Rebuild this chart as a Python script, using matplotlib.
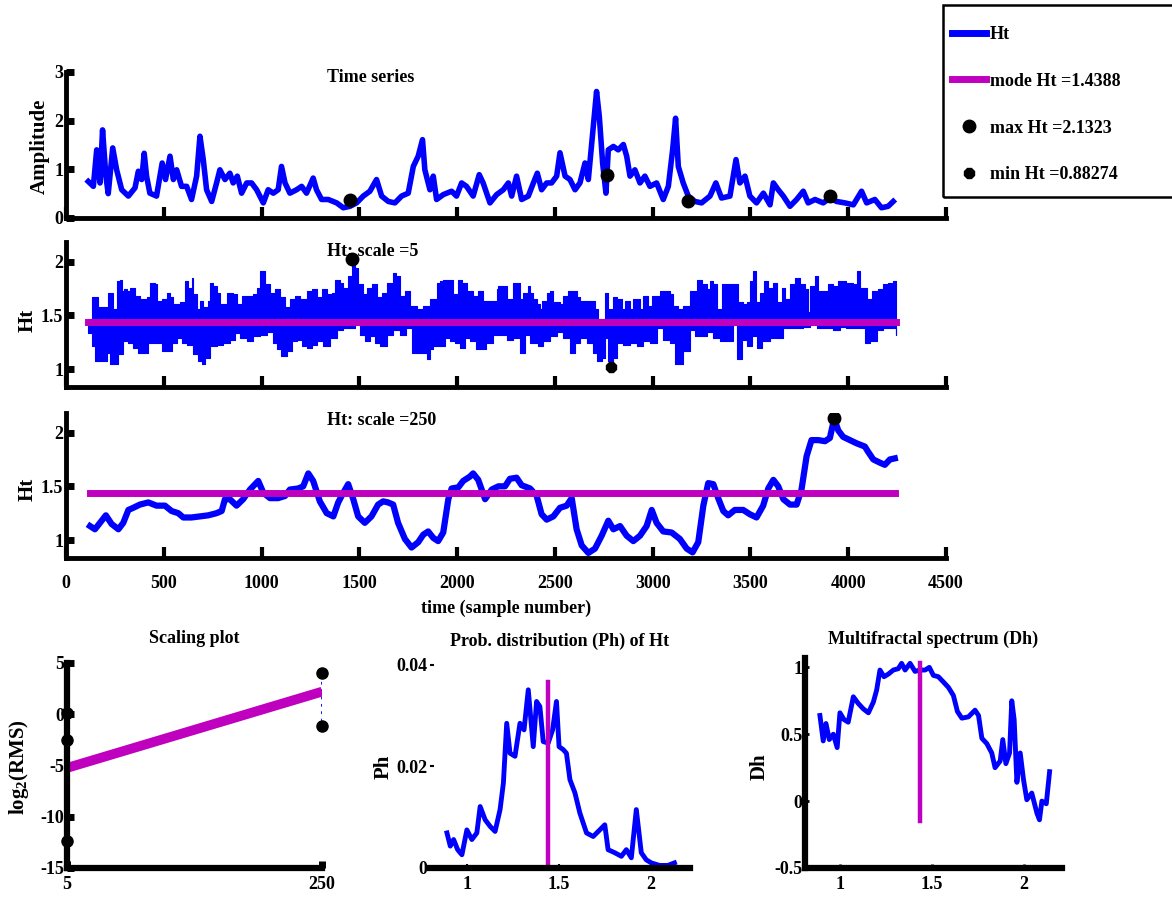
# -*- coding: utf-8 -*-
import numpy as np
import matplotlib
matplotlib.use('Agg')
import matplotlib.pyplot as plt
from matplotlib.lines import Line2D
from matplotlib.patches import Rectangle

plt.rcParams['font.family'] = 'Liberation Serif'
plt.rcParams['font.weight'] = 'bold'
plt.rcParams['axes.labelweight'] = 'bold'
plt.rcParams['axes.unicode_minus'] = False
plt.rcParams['mathtext.fontset'] = 'custom'
plt.rcParams['mathtext.rm'] = 'Liberation Serif:bold'
plt.rcParams['mathtext.it'] = 'Liberation Serif:bold'
plt.rcParams['mathtext.bf'] = 'Liberation Serif:bold'

BLUE = '#0000ff'
MAG = '#bf00bf'
FS = 13

# ---- time series (amplitude) ----
ts_t = [114, 140, 157, 174, 187, 204, 216, 239, 259, 285,
        319, 353, 370, 387, 400, 412, 429, 463, 492, 509,
        532, 549, 566, 591, 617, 642, 668, 685, 702, 719,
        745, 770, 787, 813, 838, 855, 876, 898, 924, 949,
        975, 1009, 1034, 1060, 1085, 1102, 1120, 1145, 1179, 1205,
        1230, 1264, 1281, 1307, 1341, 1384, 1418, 1452, 1486, 1520,
        1554, 1588, 1614, 1648, 1682, 1716, 1750, 1776, 1801, 1823,
        1835, 1861, 1878, 1895, 1929, 1972, 1997, 2023, 2048, 2082,
        2113, 2133, 2168, 2202, 2236, 2262, 2279, 2304, 2330, 2364,
        2390, 2410, 2432, 2458, 2483, 2509, 2526, 2552, 2577, 2603,
        2628, 2654, 2671, 2693, 2713, 2727, 2744, 2761, 2773, 2799,
        2824, 2850, 2867, 2884, 2909, 2935, 2960, 2986, 3020, 3054,
        3080, 3102, 3117, 3131, 3156, 3182, 3216, 3250, 3293, 3323,
        3352, 3395, 3426, 3446, 3472, 3497, 3531, 3566, 3600, 3617,
        3642, 3668, 3702, 3736, 3770, 3795, 3830, 3872, 3906, 3940,
        3983, 4026, 4068, 4094, 4136, 4170, 4204, 4230]
ts_amp = [0.75, 0.65, 1.40, 0.72, 1.81, 0.86, 0.50, 1.44, 0.99, 0.58,
          0.45, 0.62, 0.96, 0.79, 1.33, 0.86, 0.51, 0.45, 1.13, 0.79,
          1.27, 0.79, 0.99, 0.65, 0.65, 0.38, 0.86, 1.68, 1.20, 0.58,
          0.34, 0.72, 0.99, 0.79, 0.92, 0.72, 0.86, 0.51, 0.72, 0.72,
          0.58, 0.31, 0.58, 0.51, 0.58, 1.06, 0.72, 0.51, 0.58, 0.65,
          0.51, 0.82, 0.58, 0.38, 0.38, 0.31, 0.21, 0.24, 0.31, 0.45,
          0.55, 0.79, 0.45, 0.34, 0.31, 0.45, 0.51, 1.06, 1.27, 1.61,
          0.99, 0.58, 0.86, 0.38, 0.48, 0.55, 0.45, 0.72, 0.65, 0.45,
          0.89, 0.72, 0.31, 0.48, 0.58, 0.72, 0.45, 0.86, 0.38, 0.45,
          0.72, 0.92, 0.58, 0.72, 0.72, 0.86, 1.34, 0.86, 0.79, 0.58,
          0.72, 1.13, 0.79, 1.75, 2.60, 2.09, 1.13, 0.51, 1.40, 1.47,
          1.40, 1.51, 1.27, 0.86, 0.99, 0.72, 0.86, 0.65, 0.72, 0.38,
          0.65, 1.40, 2.05, 1.06, 0.72, 0.45, 0.34, 0.31, 0.45, 0.72,
          0.41, 0.45, 1.20, 0.72, 0.86, 0.45, 0.31, 0.51, 0.27, 0.72,
          0.58, 0.45, 0.24, 0.38, 0.55, 0.31, 0.38, 0.31, 0.41, 0.34,
          0.31, 0.27, 0.55, 0.31, 0.38, 0.21, 0.24, 0.34]
ts_mark_t = [1452, 2766, 3180, 3906]
ts_mark_amp = [0.37, 0.88, 0.35, 0.45]

# ---- Ht at scale 5: upper and lower envelope of the dense trace ----
s5_up_t = [114, 131, 157, 165, 191, 208, 216, 233, 242, 259, 276, 285, 297, 310, 327,
           344, 353, 378, 395, 412, 429, 455, 463, 489, 506, 515, 532, 549, 566, 583,
           608, 625, 642, 651, 668, 685, 702, 728, 736, 753, 770, 787, 821, 855, 872,
           898, 924, 958, 975, 992, 1009, 1017, 1043, 1068, 1094, 1120, 1145, 1171, 1196,
           1230, 1256, 1281, 1307, 1333, 1358, 1375, 1401, 1418, 1443, 1460, 1477, 1494,
           1520, 1537, 1563, 1588, 1614, 1639, 1673, 1690, 1707, 1733, 1759, 1793, 1827,
           1861, 1895, 1912, 1929, 1954, 1980, 2006, 2023, 2048, 2082, 2108, 2133, 2167,
           2202, 2211, 2236, 2253, 2279, 2287, 2313, 2321, 2339, 2364, 2373, 2390, 2407,
           2424, 2432, 2458, 2475, 2492, 2526, 2543, 2569, 2594, 2611, 2628, 2654, 2679,
           2705, 2722, 2756, 2773, 2790, 2799, 2816, 2841, 2858, 2884, 2901, 2918, 2935,
           2952, 2978, 2995, 3020, 3037, 3063, 3088, 3105, 3131, 3156, 3191, 3225, 3250,
           3276, 3293, 3310, 3330, 3352, 3386, 3429, 3438, 3463, 3480, 3497, 3511, 3528,
           3548, 3569, 3591, 3617, 3634, 3659, 3676, 3702, 3727, 3753, 3778, 3795, 3804,
           3830, 3847, 3872, 3898, 3923, 3949, 3991, 4025, 4043, 4060, 4094, 4119, 4153,
           4179, 4204, 4230, 4244]
s5_up = [1.47, 1.667, 1.667, 1.576, 1.576, 1.561, 1.712, 1.712, 1.561, 1.818, 1.833, 1.727, 1.742, 1.727, 1.758,
         1.758, 1.682, 1.652, 1.652, 1.667, 1.803, 1.788, 1.636, 1.652, 1.652, 1.712, 1.667, 1.606, 1.606, 1.621,
         1.818, 1.758, 1.848, 1.697, 1.561, 1.636, 1.576, 1.636, 1.803, 1.773, 1.712, 1.606, 1.712, 1.697, 1.606,
         1.682, 1.682, 1.697, 1.758, 1.909, 1.909, 1.788, 1.712, 1.742, 1.667, 1.576, 1.652, 1.682, 1.652,
         1.727, 1.742, 1.667, 1.742, 1.697, 1.712, 1.833, 1.803, 1.758, 1.864, 2.03, 1.939, 1.788,
         1.697, 1.758, 1.788, 1.667, 1.712, 1.803, 1.894, 1.864, 1.682, 1.727, 1.591, 1.561, 1.591,
         1.652, 1.803, 1.818, 1.833, 1.833, 1.697, 1.833, 1.803, 1.727, 1.682, 1.727, 1.636, 1.636,
         1.742, 1.773, 1.773, 1.652, 1.652, 1.803, 1.803, 1.652, 1.712, 1.773, 1.712, 1.652, 1.606,
         1.561, 1.636, 1.712, 1.727, 1.621, 1.606, 1.682, 1.727, 1.727, 1.667, 1.636, 1.636, 1.636,
         1.561, 1.47, 1.712, 1.561, 1.485, 1.667, 1.652, 1.561, 1.636, 1.561, 1.652, 1.652, 1.561,
         1.682, 1.591, 1.682, 1.682, 1.727, 1.727, 1.697, 1.591, 1.561, 1.591, 1.727, 1.833, 1.788,
         1.742, 1.818, 1.788, 1.561, 1.788, 1.788, 1.788, 1.621, 1.606, 1.621, 1.818, 1.909, 1.621,
         1.712, 1.818, 1.758, 1.803, 1.621, 1.758, 1.652, 1.788, 1.848, 1.788, 1.742, 1.53, 1.773,
         1.864, 1.727, 1.727, 1.788, 1.773, 1.818, 1.803, 1.788, 1.909, 1.758, 1.652, 1.727, 1.742,
         1.788, 1.803, 1.818, 1.818]
s5_lo_t = [114, 131, 148, 174, 208, 225, 250, 268, 293, 319, 344, 370, 395, 421, 446,
           472, 489, 515, 540, 566, 591, 617, 651, 677, 694, 711, 736, 770, 804, 838,
           864, 889, 924, 958, 992, 1026, 1060, 1077, 1102, 1128, 1154, 1179, 1205, 1230,
           1256, 1281, 1315, 1350, 1384, 1418, 1452, 1477, 1503, 1528, 1554, 1580, 1605,
           1639, 1673, 1707, 1741, 1767, 1793, 1818, 1844, 1861, 1878, 1912, 1937, 1963,
           1989, 2014, 2040, 2065, 2099, 2125, 2150, 2185, 2219, 2253, 2287, 2321, 2347,
           2373, 2415, 2441, 2475, 2509, 2543, 2577, 2603, 2628, 2662, 2696, 2713, 2739,
           2756, 2773, 2785, 2799, 2816, 2850, 2884, 2918, 2952, 2986, 3020, 3054, 3088,
           3114, 3131, 3156, 3191, 3216, 3242, 3276, 3310, 3344, 3378, 3412, 3429, 3455,
           3480, 3506, 3531, 3557, 3600, 3634, 3668, 3702, 3736, 3770, 3804, 3838, 3889,
           3923, 3957, 3991, 4025, 4060, 4085, 4111, 4145, 4179, 4213, 4244]
s5_lo = [1.333, 1.212, 1.076, 1.076, 1.152, 1.045, 1.045, 1.136, 1.258, 1.242, 1.197, 1.152, 1.152, 1.242, 1.242,
         1.242, 1.167, 1.167, 1.242, 1.288, 1.242, 1.227, 1.136, 1.076, 1.045, 1.106, 1.212, 1.227, 1.242, 1.273,
         1.333, 1.288, 1.258, 1.303, 1.318, 1.348, 1.242, 1.182, 1.121, 1.167, 1.258, 1.273, 1.212, 1.197,
         1.227, 1.258, 1.212, 1.288, 1.364, 1.379, 1.379, 1.409, 1.318, 1.258, 1.303, 1.242, 1.212,
         1.318, 1.364, 1.318, 1.379, 1.152, 1.152, 1.152, 1.091, 1.182, 1.212, 1.212, 1.288, 1.258,
         1.242, 1.197, 1.288, 1.258, 1.182, 1.182, 1.242, 1.318, 1.318, 1.273, 1.288, 1.152, 1.318,
         1.242, 1.212, 1.258, 1.303, 1.348, 1.288, 1.152, 1.242, 1.288, 1.242, 1.152, 1.076, 1.106,
         1.288, 1.076, 1.015, 1.106, 1.242, 1.227, 1.242, 1.212, 1.258, 1.242, 1.379, 1.273, 1.242,
         1.045, 1.045, 1.167, 1.364, 1.303, 1.303, 1.348, 1.288, 1.258, 1.258, 1.409, 1.091, 1.273,
         1.212, 1.303, 1.197, 1.258, 1.288, 1.288, 1.379, 1.379, 1.379, 1.394, 1.409, 1.379, 1.379,
         1.364, 1.394, 1.379, 1.379, 1.379, 1.242, 1.258, 1.364, 1.379, 1.379, 1.318]
s5_mark_max = (1460, 2.02)
s5_mark_min = (2785, 1.02)

# ---- Ht at scale 250 ----
s250_t = [123, 148, 174, 204, 233, 268, 293, 319, 344, 378,
          421, 463, 506, 540, 574, 600, 642, 685, 728, 770,
          796, 813, 838, 872, 906, 941, 983, 1009, 1043, 1085,
          1120, 1145, 1188, 1213, 1239, 1264, 1298, 1333, 1367, 1392,
          1418, 1443, 1469, 1494, 1528, 1562, 1596, 1622, 1647, 1673,
          1698, 1733, 1767, 1801, 1827, 1852, 1878, 1903, 1929, 1955,
          1972, 2006, 2031, 2065, 2082, 2108,
          2143, 2177, 2211, 2245, 2270, 2304, 2330, 2373, 2407, 2432,
          2458, 2492, 2526, 2560, 2586, 2611, 2637, 2671, 2705, 2739,
          2773, 2799, 2833, 2867, 2901, 2935, 2969, 2995, 3020, 3054,
          3097, 3139, 3174, 3204, 3233, 3259, 3284, 3310, 3335, 3361,
          3386, 3420, 3463, 3497, 3531, 3565, 3591, 3617, 3642, 3668,
          3702, 3736, 3761, 3787, 3812, 3847, 3881, 3906, 3928, 3949,
          3974, 4008, 4043, 4085, 4102, 4128, 4162, 4187, 4213, 4238]
s250_ht = [1.13, 1.10, 1.16, 1.23, 1.15, 1.10, 1.16, 1.28, 1.30, 1.33,
           1.35, 1.32, 1.32, 1.27, 1.25, 1.21, 1.21, 1.22, 1.23, 1.25,
           1.27, 1.38, 1.38, 1.32, 1.38, 1.47, 1.55, 1.44, 1.39, 1.39,
           1.41, 1.47, 1.48, 1.50, 1.62, 1.55, 1.36, 1.25, 1.22, 1.35,
           1.44, 1.52, 1.38, 1.22, 1.16, 1.22, 1.33, 1.36, 1.35, 1.33,
           1.16, 1.01, 0.93, 0.98, 1.05, 1.08, 1.02, 0.99, 1.07, 1.38,
           1.48, 1.49, 1.55, 1.59, 1.62, 1.56,
           1.38, 1.47, 1.50, 1.50, 1.57, 1.58, 1.51, 1.48, 1.41, 1.24,
           1.19, 1.22, 1.30, 1.32, 1.39, 1.10, 0.95, 0.88, 0.92, 1.04,
           1.18, 1.10, 1.13, 1.04, 0.99, 1.04, 1.13, 1.28, 1.16, 1.08,
           1.07, 1.01, 0.92, 0.885, 0.98, 1.32, 1.53, 1.52, 1.39, 1.27,
           1.23, 1.28, 1.28, 1.24, 1.21, 1.32, 1.48, 1.56, 1.50, 1.38,
           1.33, 1.33, 1.47, 1.78, 1.93, 1.93, 1.92, 1.95, 2.13, 2.02,
           1.96, 1.93, 1.90, 1.87, 1.82, 1.75, 1.72, 1.70, 1.75, 1.76]
s250_mark_max = (3928, 2.1323)

mode_ht = 1.4388
max_ht = 2.1323
min_ht = 0.88274

# ---- scaling plot ----
scale_fit_x = [5, 250]
scale_fit_y = [-5.24, 2.2]
rms_x = [5, 5, 5, 250, 250]
rms_y = [0.1, -2.5, -12.4, 4.0, -1.2]
rms_seg5 = [-3.4, -10.3]
rms_seg250 = [3.9, -0.85]

# ---- probability distribution ----
ph_h = [0.892, 0.91, 0.928, 0.95, 0.973, 1.0, 1.027, 1.054, 1.072, 1.099,
        1.126, 1.153, 1.18, 1.198, 1.216, 1.234, 1.261, 1.288, 1.31, 1.333,
        1.36, 1.378, 1.396, 1.414, 1.441, 1.465, 1.486, 1.50, 1.523, 1.54,
        1.559, 1.586, 1.613, 1.649, 1.685, 1.721, 1.748, 1.766, 1.802, 1.838,
        1.865, 1.892, 1.919, 1.946, 1.973, 2.0, 2.045, 2.09, 2.126]
ph_p = [0.0069, 0.0043, 0.0056, 0.0036, 0.0026, 0.0075, 0.0056, 0.0069, 0.0121, 0.0095,
        0.0082, 0.0072, 0.0115, 0.0167, 0.0285, 0.0226, 0.022, 0.0285, 0.0272, 0.0351,
        0.0239, 0.0328, 0.0318, 0.0249, 0.0246, 0.0272, 0.0328, 0.0239, 0.0233, 0.0226,
        0.0174, 0.0148, 0.0108, 0.0069, 0.0062, 0.0075, 0.0085, 0.0036, 0.0030, 0.0023,
        0.0036, 0.0020, 0.0115, 0.0030, 0.0016, 0.0010, 0.0005, 0.0005, 0.0010]
ph_mode_top = 0.0367

# ---- multifractal spectrum ----
dh_h = [0.891, 0.909, 0.924, 0.942, 0.964, 0.985, 1.0, 1.022, 1.045, 1.073,
        1.1, 1.127, 1.155, 1.182, 1.2, 1.218, 1.24, 1.264, 1.291, 1.318,
        1.336, 1.355, 1.382, 1.409, 1.436, 1.464, 1.487, 1.509, 1.536, 1.564,
        1.591, 1.618, 1.64, 1.664, 1.7, 1.736, 1.755, 1.773, 1.8, 1.827,
        1.845, 1.873, 1.887, 1.904, 1.924, 1.936, 1.949, 1.964, 1.982, 2.0,
        2.018, 2.045, 2.073, 2.087, 2.1, 2.124, 2.142]
dh_d = [0.64, 0.45, 0.58, 0.46, 0.50, 0.40, 0.66, 0.61, 0.59, 0.78,
        0.73, 0.69, 0.66, 0.74, 0.83, 0.98, 0.93, 0.95, 0.98, 0.99,
        1.03, 0.98, 1.03, 0.97, 0.98, 0.98, 1.0, 0.94, 0.93, 0.89,
        0.85, 0.79, 0.67, 0.62, 0.63, 0.68, 0.64, 0.47, 0.43, 0.36,
        0.25, 0.30, 0.46, 0.28, 0.36, 0.75, 0.61, 0.14, 0.36, 0.16,
        0.01, 0.06, -0.09, -0.14, 0.0, -0.02, 0.22]
dh_mode_seg = [-0.15, 1.03]

time_ticks = [0, 500, 1000, 1500, 2000, 2500, 3000, 3500, 4000, 4500]


def style(ax, lw=3.5):
    for s in ['top', 'right']:
        ax.spines[s].set_visible(False)
    for s in ['left', 'bottom']:
        ax.spines[s].set_linewidth(lw)
    ax.tick_params(direction='in', labelsize=FS, pad=2)


fig = plt.figure(figsize=(11.72, 9), dpi=100)
ax1 = fig.add_axes([0.0563, 0.7578, 0.7509, 0.1622])
ax2 = fig.add_axes([0.0563, 0.5700, 0.7509, 0.1611])
ax3 = fig.add_axes([0.0563, 0.3800, 0.7509, 0.1611])
ax4 = fig.add_axes([0.0572, 0.0356, 0.2176, 0.2278])
ax5 = fig.add_axes([0.3669, 0.0356, 0.2218, 0.2256])
ax6 = fig.add_axes([0.6869, 0.0356, 0.2193, 0.2333])

# top: time series
ax1.plot(ts_t, ts_amp, color=BLUE, lw=4)
ax1.plot(ts_mark_t, ts_mark_amp, 'o', color='k', ms=9)
ax1.set_xlim(0, 4500)
ax1.set_ylim(0, 3)
ax1.set_xticks(time_ticks)
ax1.set_yticks([0, 1, 2, 3])
style(ax1)
ax1.tick_params(axis='x', length=8, width=3, labelbottom=False)
ax1.tick_params(axis='y', length=6, width=5)
ax1.text(1335, 2.88, 'Time series', ha='left', va='center', fontsize=FS)
ax1.set_ylabel('Amplitude', fontsize=15, va='center')
ax1.yaxis.set_label_coords(-0.03, 0.49)

# Ht scale 5: band between the envelopes and the mode line
ax2.fill_between(s5_up_t, s5_up, mode_ht, step='post', color=BLUE, lw=0.8)
ax2.fill_between(s5_lo_t, s5_lo, mode_ht, step='post', color=BLUE, lw=0.8)
ax2.plot([s5_up_t[0], s5_up_t[-1]], [mode_ht, mode_ht], color=MAG, lw=5)
ax2.text(1335, 2.09, 'Ht: scale =5', ha='left', va='center', fontsize=FS)
ax2.plot(*s5_mark_max, 'o', color='k', ms=9)
ax2.plot(*s5_mark_min, '8', color='k', ms=8)
ax2.set_xlim(0, 4500)
ax2.set_ylim(min_ht - 0.05, max_ht + 0.05)
ax2.set_xticks(time_ticks)
ax2.set_yticks([1, 1.5, 2])
ax2.set_yticklabels(['1', '1.5', '2'])
style(ax2)
ax2.tick_params(axis='x', length=8, width=3, labelbottom=False)
ax2.tick_params(axis='y', length=6, width=5)
ax2.set_ylabel('Ht', fontsize=15, va='center')
ax2.yaxis.set_label_coords(-0.044, 0.46)

# Ht scale 250
ax3.plot(s250_t, s250_ht, color=BLUE, lw=4.5)
ax3.plot([s250_t[0], s250_t[-1]], [mode_ht, mode_ht], color=MAG, lw=5)
ax3.plot(*s250_mark_max, 'o', color='k', ms=9)
ax3.text(1335, 2.115, 'Ht: scale =250', ha='left', va='center', fontsize=FS)
ax3.set_xlim(0, 4500)
ax3.set_ylim(min_ht - 0.05, max_ht + 0.05)
ax3.set_xticks(time_ticks)
ax3.set_xticklabels([str(v) for v in time_ticks])
ax3.set_yticks([1, 1.5, 2])
ax3.set_yticklabels(['1', '1.5', '2'])
style(ax3)
ax3.tick_params(axis='x', length=8, width=3, pad=12)
ax3.tick_params(axis='y', length=6, width=5)
ax3.set_ylabel('Ht', fontsize=15, va='center')
ax3.yaxis.set_label_coords(-0.044, 0.47)
ax3.set_xlabel('time (sample number)', fontsize=FS, labelpad=6)

# scaling plot
ax4.plot([5, 5], rms_seg5, ':', color=BLUE, lw=2)
ax4.plot([250, 250], rms_seg250, ':', color=BLUE, lw=2)
ax4.plot(scale_fit_x, scale_fit_y, color=MAG, lw=7, solid_capstyle='butt')
ax4.plot(rms_x, rms_y, 'o', color='k', ms=8, clip_on=False, zorder=4)
ax4.set_xlim(5, 250)
ax4.set_ylim(-15, 5)
ax4.set_xticks([5, 250])
ax4.set_yticks([-15, -10, -5, 0, 5])
style(ax4, lw=4.5)
ax4.tick_params(length=5, width=5)
ax4.tick_params(axis='x', pad=6)
ax4.set_title('Scaling plot', fontsize=FS, fontweight='bold', pad=14)
ax4.set_ylabel(r'log$_2$(RMS)', fontsize=15, va='center')
ax4.yaxis.set_label_coords(-0.19, 0.49)

# probability distribution
ax5.plot(ph_h, ph_p, color=BLUE, lw=3.5)
ax5.plot([mode_ht, mode_ht], [0, ph_mode_top], color=MAG, lw=3.2)
ax5.set_xlim(0.8, 2.21)
ax5.set_ylim(0, 0.04)
ax5.set_xticks([1, 1.5, 2])
ax5.set_xticklabels(['1', '1.5', '2'])
ax5.set_yticks([0, 0.02, 0.04])
ax5.set_yticklabels(['0', '0.02', '0.04'])
style(ax5, lw=4.5)
ax5.spines['left'].set_visible(False)
ax5.tick_params(length=3, width=1.5)
ax5.tick_params(axis='x', pad=6)
ax5.set_title('Prob. distribution (Ph) of Ht', fontsize=FS, fontweight='bold', pad=14)
ax5.set_ylabel('Ph', fontsize=15, va='center')
ax5.yaxis.set_label_coords(-0.18, 0.5)

# multifractal spectrum
ax6.plot(dh_h, dh_d, color=BLUE, lw=3.5)
ax6.plot([mode_ht, mode_ht], dh_mode_seg, color=MAG, lw=3.2)
ax6.set_xlim(0.81, 2.21)
ax6.set_ylim(-0.5, 1.07)
ax6.set_xticks([1, 1.5, 2])
ax6.set_xticklabels(['1', '1.5', '2'])
ax6.set_yticks([-0.5, 0, 0.5, 1])
ax6.set_yticklabels(['-0.5', '0', '0.5', '1'])
style(ax6, lw=4.5)
ax6.tick_params(length=3, width=2)
ax6.tick_params(axis='x', pad=6)
ax6.set_title('Multifractal spectrum (Dh)', fontsize=FS, fontweight='bold', pad=10)
ax6.set_ylabel('Dh', fontsize=15, va='center')
ax6.yaxis.set_label_coords(-0.175, 0.48)

# legend box (frame drawn separately so it runs off the right edge)
fig.patches.append(Rectangle((943 / 1172, 1 - 197 / 900), 0.3, 192 / 900,
                             transform=fig.transFigure, fill=False,
                             ec='black', lw=1.8))
handles = [Line2D([], [], color=BLUE, lw=5),
           Line2D([], [], color=MAG, lw=5),
           Line2D([], [], ls='', marker='o', color='k', ms=9),
           Line2D([], [], ls='', marker='8', color='k', ms=8)]
labels = ['Ht', 'mode Ht =%.4f' % mode_ht, 'max Ht =%.4f' % max_ht,
          'min Ht =%.5f' % min_ht]
fig.legend(handles, labels, loc='upper left',
           bbox_to_anchor=(952 / 1172, 1 - 26 / 900),
           borderaxespad=0, borderpad=0, fontsize=FS, handlelength=1.9,
           handletextpad=0.2, labelspacing=1.65, frameon=False)

fig.savefig('out.png', dpi=100)
